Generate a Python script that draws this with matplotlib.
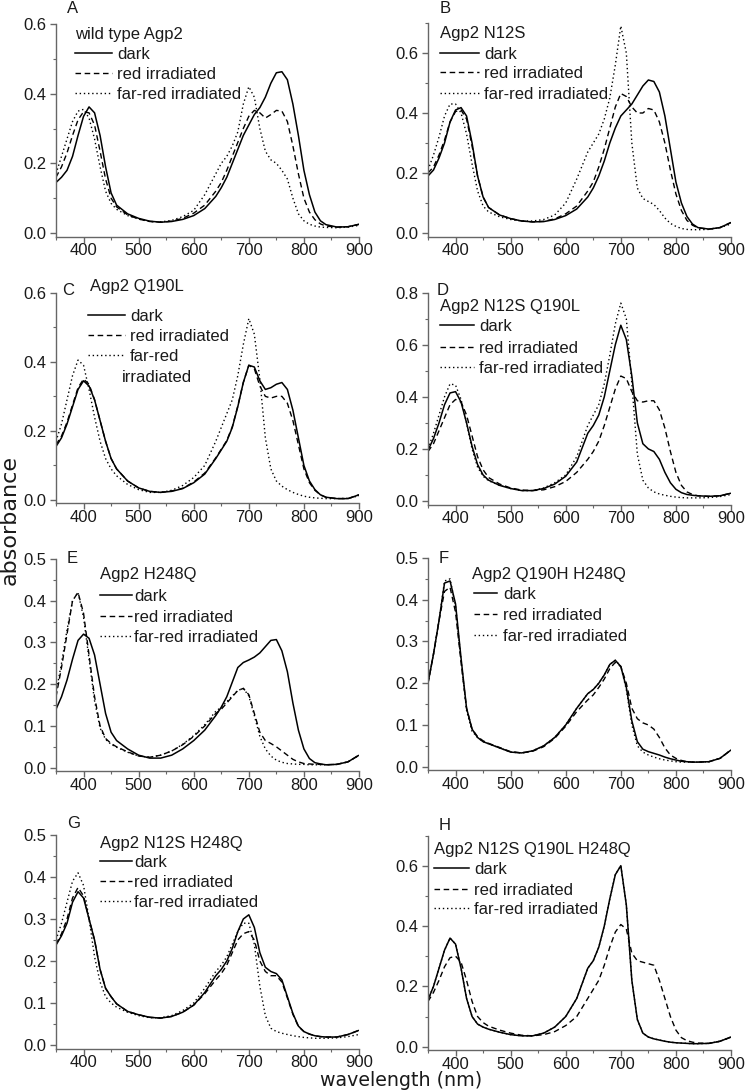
import matplotlib
matplotlib.use("Agg")
import matplotlib.pyplot as plt
from matplotlib.lines import Line2D
from matplotlib.ticker import MultipleLocator

# ---------------- data ----------------
wavelength = [350, 360, 370, 380, 390, 400, 410, 420, 430, 440, 450, 460,
              480, 500, 520, 540, 560, 580, 600, 620, 640,
              650, 660, 670, 680, 690, 700, 710, 720, 730, 740, 750, 760, 770, 780, 790,
              800, 810, 820, 830, 840, 860, 880, 900]

A_dark = [.145, .16, .18, .22, .28, .335, .362, .345, .28, .19, .115, .08,
          .055, .042, .034, .031, .033, .039, .05, .07, .105,
          .13, .16, .2, .24, .28, .31, .34, .36, .39, .43, .46, .463, .44, .37, .28,
          .18, .11, .06, .035, .024, .017, .018, .025]
A_red = [.16, .19, .23, .28, .325, .348, .345, .31, .235, .155, .1, .075,
         .052, .04, .033, .031, .034, .042, .057, .08, .12,
         .145, .18, .22, .26, .3, .335, .352, .345, .33, .34, .352, .35, .32, .25, .17,
         .1, .06, .038, .026, .02, .017, .018, .025]
A_far = [.17, .22, .27, .32, .35, .355, .33, .27, .19, .12, .085, .068,
         .05, .04, .033, .032, .036, .047, .065, .11, .17,
         .2, .22, .25, .29, .37, .42, .39, .3, .235, .21, .2, .18, .155, .1, .055,
         .035, .025, .02, .017, .016, .015, .017, .022]

B_dark = [.19, .21, .25, .3, .37, .41, .418, .39, .3, .19, .12, .085,
          .06, .048, .04, .037, .038, .045, .058, .08, .12,
          .15, .19, .24, .3, .35, .39, .41, .43, .46, .49, .51, .505, .47, .39, .28,
          .17, .1, .055, .03, .018, .013, .018, .035]
B_red = [.2, .22, .26, .31, .37, .405, .41, .38, .29, .19, .12, .085,
         .06, .048, .04, .037, .039, .047, .064, .09, .14,
         .17, .22, .28, .35, .42, .465, .455, .42, .4, .4, .415, .41, .37, .3, .21,
         .13, .075, .042, .026, .017, .013, .018, .035]
B_far = [.21, .26, .32, .39, .43, .43, .4, .33, .23, .14, .09, .07,
         .054, .045, .04, .04, .045, .06, .1, .18, .27,
         .3, .33, .38, .45, .56, .69, .6, .3, .15, .115, .105, .095, .075, .05, .032,
         .022, .015, .012, .011, .011, .012, .018, .03]

C_dark = [.155, .18, .22, .27, .32, .345, .33, .29, .23, .17, .12, .09,
          .055, .035, .025, .022, .025, .033, .05, .075, .12,
          .145, .17, .21, .27, .34, .39, .385, .345, .32, .325, .335, .34, .32, .26, .18,
          .1, .055, .03, .015, .008, .004, .004, .015]
C_red = [.16, .185, .225, .275, .325, .35, .335, .29, .23, .17, .12, .09,
         .055, .035, .025, .022, .026, .034, .052, .078, .122,
         .147, .172, .212, .272, .34, .39, .38, .33, .3, .295, .3, .3, .28, .23, .16,
         .09, .05, .028, .015, .008, .004, .004, .015]
C_far = [.17, .22, .29, .36, .405, .39, .32, .24, .17, .12, .09, .07,
         .045, .03, .022, .022, .028, .042, .065, .1, .17,
         .21, .25, .29, .36, .45, .525, .48, .35, .18, .09, .055, .04, .03, .022, .016,
         .011, .008, .006, .005, .004, .004, .005, .012]

D_dark = [.195, .24, .3, .37, .415, .42, .38, .3, .21, .14, .1, .08,
          .06, .048, .04, .04, .048, .065, .095, .15, .26,
          .29, .33, .4, .5, .6, .675, .62, .48, .3, .22, .2, .19, .16, .11, .07,
          .045, .032, .025, .022, .02, .018, .02, .03]
D_red = [.19, .22, .27, .32, .37, .39, .38, .33, .25, .17, .12, .09,
         .065, .05, .042, .04, .043, .055, .075, .11, .16,
         .19, .23, .29, .36, .43, .48, .47, .42, .385, .38, .385, .385, .35, .28, .19,
         .11, .06, .035, .025, .02, .018, .02, .03]
D_far = [.2, .26, .33, .4, .45, .445, .39, .3, .2, .13, .095, .078,
         .06, .048, .04, .04, .05, .07, .1, .17, .29,
         .33, .37, .45, .56, .68, .76, .7, .45, .18, .08, .05, .035, .027, .022, .018,
         .015, .013, .012, .012, .012, .013, .017, .025]

E_dark = [.14, .17, .21, .26, .305, .32, .31, .27, .2, .13, .085, .065,
          .045, .03, .023, .023, .03, .045, .065, .09, .125,
          .145, .17, .205, .24, .252, .258, .265, .275, .29, .305, .307, .28, .23, .155, .09,
          .045, .022, .012, .009, .007, .008, .014, .03]
E_red = [.17, .24, .32, .4, .42, .37, .27, .17, .1, .07, .058, .05,
         .038, .028, .025, .03, .04, .055, .075, .1, .13,
         .14, .155, .17, .185, .19, .175, .13, .085, .065, .058, .05, .04, .03, .02, .014,
         .01, .009, .008, .008, .007, .008, .014, .03]
E_far = [.18, .25, .33, .4, .42, .36, .26, .16, .095, .068, .056, .049,
         .037, .028, .025, .03, .04, .056, .077, .103, .135,
         .145, .158, .172, .185, .19, .172, .125, .075, .045, .028, .018, .013, .01, .009, .008,
         .008, .007, .007, .007, .007, .008, .014, .03]

F_dark = [.2, .27, .35, .44, .445, .39, .26, .14, .09, .07, .06, .055,
          .045, .035, .033, .038, .05, .07, .1, .14, .175,
          .185, .2, .22, .245, .255, .24, .19, .11, .06, .042, .036, .032, .028, .023, .019,
          .016, .013, .012, .011, .011, .012, .02, .04]
F_red = [.2, .27, .35, .42, .43, .37, .25, .14, .09, .072, .062, .056,
         .046, .036, .033, .037, .048, .068, .097, .132, .16,
         .172, .19, .21, .235, .25, .24, .2, .14, .115, .105, .1, .09, .07, .045, .028,
         .02, .015, .012, .011, .011, .012, .02, .04]
F_far = [.2, .27, .35, .445, .45, .385, .255, .135, .085, .07, .06, .055,
         .045, .035, .033, .038, .05, .07, .1, .14, .175,
         .185, .2, .22, .245, .255, .24, .185, .1, .05, .035, .028, .023, .019, .016, .014,
         .012, .011, .011, .011, .011, .012, .02, .04]

G_dark = [.238, .26, .29, .34, .365, .35, .3, .25, .18, .135, .115, .098,
          .08, .072, .066, .064, .068, .078, .095, .125, .165,
          .18, .2, .23, .27, .3, .31, .28, .22, .185, .175, .17, .155, .115, .075, .045,
          .032, .026, .022, .02, .019, .019, .025, .035]
G_red = [.24, .265, .3, .35, .375, .355, .3, .25, .18, .135, .115, .098,
         .08, .072, .066, .064, .068, .078, .095, .122, .155,
         .17, .19, .22, .25, .265, .27, .25, .2, .175, .165, .165, .15, .112, .073, .044,
         .032, .026, .022, .02, .019, .019, .025, .035]
G_far = [.25, .29, .34, .39, .41, .38, .3, .21, .15, .115, .1, .09,
         .078, .07, .065, .065, .07, .082, .1, .135, .175,
         .19, .21, .24, .27, .29, .29, .24, .14, .07, .04, .032, .028, .025, .022, .02,
         .018, .017, .016, .016, .016, .017, .02, .025]

H_dark = [.155, .2, .26, .32, .36, .34, .26, .16, .1, .075, .065, .058,
          .048, .04, .036, .036, .045, .065, .1, .16, .26,
          .285, .33, .4, .49, .57, .6, .47, .22, .09, .045, .032, .026, .022, .018, .015,
          .013, .012, .011, .01, .01, .011, .018, .032]
H_red = [.15, .18, .22, .265, .295, .3, .28, .22, .15, .1, .08, .068,
         .055, .045, .038, .036, .04, .05, .07, .1, .16,
         .19, .22, .27, .33, .38, .405, .39, .31, .285, .28, .275, .27, .22, .16, .1,
         .055, .03, .02, .015, .012, .011, .018, .032]
H_far = [.155, .2, .26, .32, .36, .34, .26, .16, .1, .075, .065, .058,
         .048, .04, .036, .036, .045, .065, .1, .16, .26,
         .285, .33, .4, .49, .57, .6, .47, .22, .09, .045, .032, .026, .022, .018, .015,
         .013, .012, .011, .01, .01, .011, .018, .032]

panel_letters = ["A", "B", "C", "D", "E", "F", "G", "H"]
panel_titles = ["wild type Agp2", "Agp2 N12S", "Agp2 Q190L", "Agp2 N12S Q190L",
                "Agp2 H248Q", "Agp2 Q190H H248Q", "Agp2 N12S H248Q", "Agp2 N12S Q190L H248Q"]
series_labels = ["dark", "red irradiated", "far-red irradiated"]
panel_series = [(A_dark, A_red, A_far), (B_dark, B_red, B_far), (C_dark, C_red, C_far),
                (D_dark, D_red, D_far), (E_dark, E_red, E_far), (F_dark, F_red, F_far),
                (G_dark, G_red, G_far), (H_dark, H_red, H_far)]
panel_ymax = [0.6, 0.7, 0.6, 0.8, 0.5, 0.5, 0.5, 0.7]
panel_ystep = [0.2, 0.2, 0.2, 0.2, 0.1, 0.1, 0.1, 0.2]
x_ticks = [400, 500, 600, 700, 800, 900]

# ---------------- layout (pixels) ----------------
W, H = 745, 1091
fig = plt.figure(figsize=(W / 100, H / 100), dpi=100)

col_x = [(56, 359), (428, 731)]
# (top pixel of ymax, pixel of 0.0)
rows_px = [(24, 233), (23, 233), (292.7, 500), (292.7, 501),
           (559, 767.7), (558, 766.7), (835, 1045), (835.5, 1046.7)]

# legend geometry: title xy, handle x0, x1, text x, row centers
leg_spec = [
    dict(title=(75, 33), h=(75, 112), tx=117, rows=[53, 73, 93]),
    dict(title=(440, 32), h=(440, 479), tx=484, rows=[53, 72, 93]),
    dict(title=(90, 285), h=(88, 125), tx=130, rows=[315, 335, 355]),
    dict(title=(440, 305), h=(440, 474), tx=479, rows=[325, 347, 367]),
    dict(title=(100, 573), h=(100, 132), tx=134, rows=[595, 616, 636]),
    dict(title=(472, 573), h=(474, 497), tx=503, rows=[593, 614, 635]),
    dict(title=(100, 842), h=(100, 132), tx=134, rows=[861, 881, 901]),
    dict(title=(434, 848), h=(434, 469), tx=474, rows=[868, 889, 908]),
]
letter_pos = [(67, 13), (440, 13), (62, 295), (437, 295),
              (67, 563), (439, 563), (67, 828), (439, 830)]

FONT = "Liberation Sans"
FS = 12
spine_col = "#666666"
styles = [dict(ls="-", lw=1.1), dict(ls=(0, (4, 2.6)), lw=1.0), dict(ls=(0, (1, 2.0)), lw=1.0)]


def fx(x):
    return x / W


def fy(y):
    return 1 - y / H


for i in range(8):
    col = i % 2
    x0, x1 = col_x[col]
    ytop, yzero = rows_px[i]
    ymax = panel_ymax[i]
    scale = (yzero - ytop) / ymax
    ybot = yzero + 3.5
    ymin = -3.5 / scale
    ax = fig.add_axes([fx(x0), fy(ybot), (x1 - x0) / W, (ybot - ytop) / H])
    for s, st in zip(panel_series[i], styles):
        ax.plot(wavelength, s, color="black", solid_capstyle="butt", **st)
    ax.set_xlim(350, 900)
    ax.set_ylim(ymin, ymax)
    ax.set_xticks(x_ticks)
    ax.xaxis.set_minor_locator(MultipleLocator(50))
    step = panel_ystep[i]
    nt = int(round(ymax / step + 1e-9))
    yt = [round(k * step, 2) for k in range(nt + 1) if k * step <= ymax + 1e-9]
    ax.set_yticks(yt)
    ax.set_yticklabels([f"{v:.1f}" for v in yt])
    ax.yaxis.set_minor_locator(MultipleLocator(step / 2))
    for sp in ["top", "right"]:
        ax.spines[sp].set_visible(False)
    for sp in ["left", "bottom"]:
        ax.spines[sp].set_color(spine_col)
        ax.spines[sp].set_linewidth(1.0)
    ax.tick_params(which="major", direction="out", length=4, width=1.0, color=spine_col,
                   labelsize=FS, labelcolor="#1a1a1a")
    ax.tick_params(axis="x", which="major", pad=1.0)
    ax.tick_params(axis="y", which="major", pad=3.0)
    ax.tick_params(which="minor", direction="out", length=2.2, width=0.8, color=spine_col)
    for lab in ax.get_xticklabels() + ax.get_yticklabels():
        lab.set_fontfamily(FONT)
    ax.patch.set_alpha(0)

    # panel letter
    lx, ly = letter_pos[i]
    fig.text(fx(lx), fy(ly), panel_letters[i], family=FONT, fontsize=FS,
             ha="left", va="baseline", color="#1a1a1a")

    # legend
    sp_ = leg_spec[i]
    tx, ty = sp_["title"]
    fig.text(fx(tx), fy(ty + 6), panel_titles[i], family=FONT, fontsize=FS,
             ha="left", va="baseline", color="#1a1a1a")
    hx0, hx1 = sp_["h"]
    for lbl, yc, st in zip(series_labels, sp_["rows"], styles):
        fig.add_artist(Line2D([fx(hx0), fx(hx1)], [fy(yc), fy(yc)],
                              transform=fig.transFigure, color="black", **st))
        text = lbl
        if i == 2 and lbl == "far-red irradiated":
            text = "far-red"
        fig.text(fx(sp_["tx"]), fy(yc + 6), text, family=FONT, fontsize=FS,
                 ha="left", va="baseline", color="#1a1a1a")
    if i == 2:
        fig.text(fx(122), fy(376 + 6), "irradiated", family=FONT, fontsize=FS,
                 ha="left", va="baseline", color="#1a1a1a")

fig.text(fx(10), fy(520), "absorbance", family="DejaVu Sans", fontsize=16,
         rotation=90, ha="center", va="center", color="#1a1a1a")
fig.text(fx(401), fy(1086), "wavelength (nm)", family="DejaVu Sans", fontsize=13.7,
         ha="center", va="baseline", color="#1a1a1a")

fig.savefig("out.png", dpi=100)
